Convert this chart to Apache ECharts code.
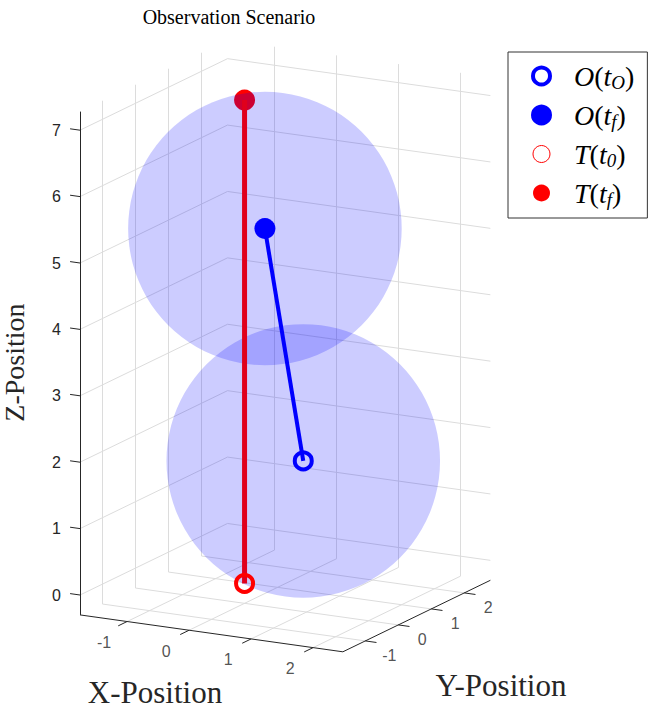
<!DOCTYPE html>
<html><head><meta charset="utf-8">
<script src="https://cdn.jsdelivr.net/npm/echarts@6/dist/echarts.min.js"></script>
<style>html,body{margin:0;padding:0;background:#fff}#c{width:653px;height:709px}</style>
</head><body><div id="c"></div>
<script>
// ---------------- data ----------------
const xTicks = [-1, 0, 1, 2];
const yTicks = [-1, 0, 1, 2];
const zTicks = [0, 1, 2, 3, 4, 5, 6, 7];
const xLim = [-1.76, 2.48];
const yLim = [-1.68, 2.79];
const zLim = [-0.3, 7.28];
const observerStart = [1.0, -0.1, 2.0];    // O(t_O)
const observerEnd   = [0.52, -0.36, 5.5];  // O(t_f)
const targetStart   = [0.0, 0.0, 0.0];     // T(t_0)
const targetEnd     = [0.0, 0.0, 7.28];    // T(t_f)
const sphereRadius = 2;
const legendNames = ['O(t_O)', 'O(t_f)', 'T(t_0)', 'T(t_f)'];
const titleText = 'Observation Scenario';
const xName = 'X-Position', yName = 'Y-Position', zName = 'Z-Position';

// ---------------- view (orthographic projection) ----------------
// screen offset per data unit, in units of the vertical (Z) axis
const EX = [0.9337, -0.1310];
const EY = [0.4970, 0.2410];
const SIL = 1.03; // silhouette scale of a sphere
function P(p) {
  const a = p[0] - xLim[0], b = p[1] - yLim[0];
  return [a * EX[0] + b * EY[0], p[2] + a * EX[1] + b * EY[1]];
}
function seg(a, b) { return { coords: [P(a), P(b)] }; }

const [x0, x1] = xLim, [y0, y1] = yLim, [z0, z1] = zLim;
const gridSegs = [];
xTicks.forEach(t => gridSegs.push(seg([t, y0, z0], [t, y1, z0])));
yTicks.forEach(t => gridSegs.push(seg([x0, t, z0], [x1, t, z0])));
yTicks.forEach(t => gridSegs.push(seg([x0, t, z0], [x0, t, z1])));
zTicks.forEach(t => gridSegs.push(seg([x0, y0, t], [x0, y1, t])));
xTicks.forEach(t => gridSegs.push(seg([t, y1, z0], [t, y1, z1])));
zTicks.forEach(t => gridSegs.push(seg([x0, y1, t], [x1, y1, t])));

const axisSegs = [
  seg([x0, y0, z0], [x0, y0, z1]),
  seg([x0, y0, z0], [x1, y0, z0]),
  seg([x1, y0, z0], [x1, y1, z0])
];
const tickSegs = [];
xTicks.forEach(t => tickSegs.push(seg([t, y0, z0], [t, y0 - 0.27, z0])));
yTicks.forEach(t => tickSegs.push(seg([x1, t, z0], [x1 + 0.18, t, z0])));
zTicks.forEach(t => tickSegs.push(seg([x0, y0, t], [x0 - 0.16, y0, t])));

const SERIF = '"Liberation Serif", "DejaVu Serif", serif';
const SANS = '"Liberation Sans", Arial, Helvetica, sans-serif';
const INK = '#262626';
const BLUE = '#0000ff', RED = '#ff0000';

function legendLabel(name) {
  const m = name.match(/^(\w)\((\w)_(\w)\)$/);
  return '{g| }{i|' + m[1] + '}{n|(}{i|' + m[2] + '}{s|' + m[3] + '}{n|)}';
}

const chart = echarts.init(document.getElementById('c'), null, { renderer: 'svg' });
chart.setOption({
  animation: false,
  backgroundColor: '#fff',
  grid: { left: 80, right: 0, top: 63.8, bottom: 47.6, containLabel: false, outerBoundsMode: 'none' },
  xAxis: { type: 'value', min: 0, max: 573 / 66.4, show: false },
  yAxis: {
    type: 'value', min: -1, max: 8, interval: 1,
    axisLine: { show: false }, axisTick: { show: false }, splitLine: { show: false },
    axisLabel: {
      margin: 19, fontSize: 16, color: INK, fontFamily: SANS,
      formatter: v => (zTicks.indexOf(v) >= 0 ? String(v) : '')
    },
    name: zName, nameLocation: 'middle', nameGap: 52, nameRotate: 90,
    nameTextStyle: { fontFamily: SERIF, fontSize: 28, color: INK, lineHeight: 28 }
  },
  graphic: [
    { type: 'text', x: 229, y: 17, style: { text: titleText, font: '20px ' + SERIF, fill: '#000', textAlign: 'center', textVerticalAlign: 'middle' } },
    { type: 'text', x: 155, y: 692, style: { text: xName, font: '31px ' + SERIF, fill: INK, textAlign: 'center', textVerticalAlign: 'middle' } },
    { type: 'text', x: 501, y: 685, style: { text: yName, font: '31px ' + SERIF, fill: INK, textAlign: 'center', textVerticalAlign: 'middle' } }
  ],
  legend: {
    orient: 'vertical', left: 508, top: 52, padding: [8, 13, 9, 23], itemGap: 7,
    itemWidth: 17, itemHeight: 17, selectedMode: false,
    backgroundColor: '#fff', borderColor: '#333', borderWidth: 1, borderRadius: 0,
    data: [
      { name: legendNames[0], icon: 'circle', itemStyle: { color: 'rgba(0,0,0,0)', borderColor: BLUE, borderWidth: 4 } },
      { name: legendNames[1], icon: 'circle', itemStyle: { color: BLUE, borderColor: BLUE, borderWidth: 4 } },
      { name: legendNames[2], icon: 'circle', itemStyle: { color: 'rgba(0,0,0,0)', borderColor: RED, borderWidth: 1 } },
      { name: legendNames[3], icon: 'circle', itemStyle: { color: RED, borderColor: RED, borderWidth: 0 } }
    ],
    formatter: legendLabel,
    textStyle: {
      rich: {
        g: { width: 19 },
        i: { fontFamily: SERIF, fontStyle: 'italic', fontSize: 28, lineHeight: 30, color: '#000' },
        n: { fontFamily: SERIF, fontSize: 28, lineHeight: 30, color: '#000' },
        s: { fontFamily: SERIF, fontStyle: 'italic', fontSize: 19, lineHeight: 18, padding: [13, 0, 0, 0], color: '#000' }
      }
    }
  },
  series: [
    { type: 'lines', coordinateSystem: 'cartesian2d', polyline: false, silent: true, clip: false, z: 1,
      data: gridSegs, lineStyle: { color: '#dcdcdc', width: 1, opacity: 1 } },
    { type: 'lines', coordinateSystem: 'cartesian2d', polyline: false, silent: true, clip: false, z: 1,
      data: axisSegs.concat(tickSegs), lineStyle: { color: INK, width: 1, opacity: 1 } },
    { type: 'scatter', silent: true, z: 1, symbolSize: 0,
      data: xTicks.map(t => ({ name: String(t), value: P([t, y0, z0]) })),
      label: { show: true, position: 'inside', offset: [-23, 21], formatter: '{b}', fontSize: 16, color: INK, fontFamily: SANS } },
    { type: 'scatter', silent: true, z: 1, symbolSize: 0,
      data: yTicks.map(t => ({ name: String(t), value: P([x1, t, z0]) })),
      label: { show: true, position: 'inside', offset: [24, 15], formatter: '{b}', fontSize: 16, color: INK, fontFamily: SANS } },
    { name: legendNames[3], type: 'scatter', z: 2, symbol: 'circle', symbolSize: 21,
      data: [P(targetEnd)], itemStyle: { color: RED, opacity: 1 } },
    { type: 'custom', silent: true, z: 3, clip: false,
      data: [P(observerStart), P(observerEnd)],
      renderItem: function (params, api) {
        const c = api.coord([api.value(0), api.value(1)]);
        const e = api.coord([api.value(0) + sphereRadius * SIL, api.value(1)]);
        return { type: 'circle', shape: { cx: c[0], cy: c[1], r: e[0] - c[0] }, style: { fill: 'rgba(0,0,255,0.2)' } };
      } },
    { type: 'line', silent: true, z: 4, symbol: 'none', data: [P(targetStart), P(targetEnd)],
      lineStyle: { color: '#e0001c', width: 5 } },
    { type: 'line', silent: true, z: 4, symbol: 'none', data: [P(observerStart), P(observerEnd)],
      lineStyle: { color: BLUE, width: 4 } },
    { name: legendNames[0], type: 'scatter', z: 5, symbol: 'circle', symbolSize: 17,
      data: [P(observerStart)], itemStyle: { color: 'rgba(0,0,0,0)', borderColor: BLUE, borderWidth: 4, opacity: 1 } },
    { name: legendNames[1], type: 'scatter', z: 5, symbol: 'circle', symbolSize: 21,
      data: [P(observerEnd)], itemStyle: { color: BLUE, opacity: 1 } },
    { name: legendNames[2], type: 'scatter', z: 5, symbol: 'circle', symbolSize: 17,
      data: [P(targetStart)], itemStyle: { color: 'rgba(0,0,0,0)', borderColor: RED, borderWidth: 4, opacity: 1 } }
  ]
});
</script></body></html>
